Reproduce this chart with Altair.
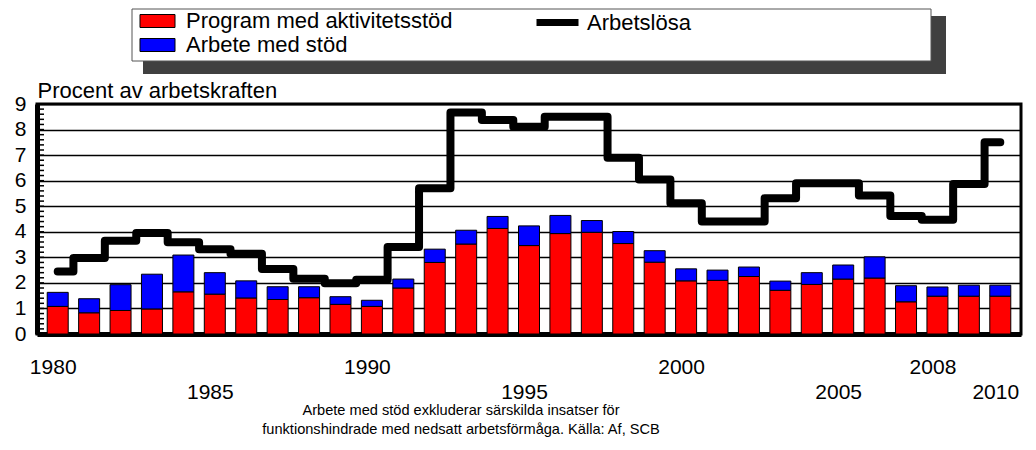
import altair as alt
import pandas as pd

# ---------------- data ----------------
years = list(range(1980, 2011))
program = [1.08, 0.83, 0.92, 0.98, 1.65, 1.56, 1.41, 1.35, 1.42, 1.16,
           1.08, 1.80, 2.80, 3.52, 4.13, 3.46, 3.93, 3.98, 3.54, 2.81,
           2.08, 2.10, 2.25, 1.71, 1.94, 2.15, 2.19, 1.26, 1.48, 1.48, 1.48]
arbete = [0.55, 0.55, 1.01, 1.36, 1.44, 0.84, 0.67, 0.50, 0.43, 0.30,
          0.24, 0.35, 0.52, 0.54, 0.47, 0.77, 0.71, 0.46, 0.47, 0.45,
          0.47, 0.40, 0.37, 0.36, 0.46, 0.55, 0.83, 0.63, 0.36, 0.43, 0.43]
arbetslosa = [2.45, 2.97, 3.65, 3.95, 3.59, 3.32, 3.14, 2.54, 2.16, 1.99,
              2.12, 3.40, 5.70, 8.67, 8.37, 8.11, 8.50, 8.50, 6.90, 6.05,
              5.12, 4.40, 4.40, 5.31, 5.90, 5.90, 5.42, 4.62, 4.47, 5.87, 7.50]

bar_series = ["Program med aktivitetsstöd", "Arbete med stöd"]
bar_colors = ["#ff0000", "#0000ff"]
line_series = "Arbetslösa"

y_ticks = [0, 1, 2, 3, 4, 5, 6, 7, 8, 9]
minor_ticks = [round(i * 0.2, 1) for i in range(0, 46)]
x_label_years = [1980, 1985, 1990, 1995, 2000, 2005, 2008, 2010]
x_second_row = [1985, 1995, 2005, 2010]

y_title = "Procent av arbetskraften"
footnote = ["Arbete med stöd exkluderar särskilda insatser för",
            "funktionshindrade med nedsatt arbetsförmåga. Källa: Af, SCB"]

FONT = "Liberation Sans"

# ---------------- tables ----------------
bars_df = pd.DataFrame(
    [{"year": y, "serie": bar_series[0], "value": p, "ord": 0} for y, p in zip(years, program)]
    + [{"year": y, "serie": bar_series[1], "value": a, "ord": 1} for y, a in zip(years, arbete)]
)
line_df = pd.DataFrame({"year": years, "value": arbetslosa, "serie": line_series})
minor_df = pd.DataFrame({"v": minor_ticks})

x_scale = alt.Scale(domain=[1979.5, 2010.5], nice=False, zero=False)
y_scale = alt.Scale(domain=[0, 9], nice=False)

second_row_expr = "indexof([" + ",".join(str(v) for v in x_second_row) + "], datum.value) >= 0 ? [' ', datum.label] : datum.label"

x_axis = alt.Axis(
    values=x_label_years, format="d", labelExpr=second_row_expr,
    ticks=False, tickSize=0, domain=True, domainWidth=5, domainColor="black",
    grid=False, labelFontSize=21, labelFont=FONT, labelColor="black",
    labelPadding=22, labelLineHeight=25, labelOffset=-5,
    labelOverlap=False, labelFlush=False, labelBound=False, title=None,
)
y_axis = alt.Axis(
    values=y_ticks, tickCount=10, ticks=False, tickSize=0, domain=True, domainWidth=5,
    domainColor="black", grid=True, gridColor="black", gridWidth=1.5,
    gridOpacity=1, labelFontSize=21, labelFont=FONT, labelColor="black",
    labelPadding=11, labelOverlap=False, labelBound=False,
    title=y_title, titleAngle=0, titleAlign="left",
    titleBaseline="alphabetic", titleX=0, titleY=-7, titleFontSize=22,
    titleFont=FONT, titleFontWeight="normal", titleColor="black",
)

# legend decoration: shadow and white box
deco = alt.Data(values=[{"k": 1}])
shadow = alt.Chart(deco).mark_rect(fill="#404040").encode(
    x=alt.value(106), x2=alt.value(909), y=alt.value(-88), y2=alt.value(-30)
)
box = alt.Chart(deco).mark_rect(fill="white", stroke="#555555", strokeWidth=1).encode(
    x=alt.value(95), x2=alt.value(894), y=alt.value(-95), y2=alt.value(-43)
)

bars = alt.Chart(bars_df).mark_bar(size=21, stroke="black", strokeWidth=1).encode(
    x=alt.X("year:Q", scale=x_scale, axis=x_axis),
    y=alt.Y("value:Q", stack="zero", scale=y_scale, axis=y_axis),
    color=alt.Color(
        "serie:N",
        scale=alt.Scale(domain=bar_series, range=bar_colors),
        legend=alt.Legend(
            title=None, orient="none", legendX=109.5, legendY=-94,
            direction="vertical", symbolType="M-1.75,-0.65H1.75V0.65H-1.75Z",
            symbolSize=400, symbolStrokeColor="black", symbolStrokeWidth=1,
            labelFontSize=22, labelFont=FONT, labelColor="black",
            labelOffset=17.5, rowPadding=2, padding=0, labelLimit=400,
        ),
    ),
    order=alt.Order("ord:Q", sort="ascending"),
)

line = alt.Chart(line_df).mark_line(
    interpolate="step", strokeWidth=8, strokeCap="round", strokeJoin="round"
).encode(
    x=alt.X("year:Q", scale=x_scale, axis=x_axis),
    y=alt.Y("value:Q", scale=y_scale, axis=y_axis),
    stroke=alt.Stroke(
        "serie:N",
        scale=alt.Scale(domain=[line_series], range=["black"]),
        legend=alt.Legend(
            title=None, orient="none", legendX=507, legendY=-95,
            symbolType="M-2.1,0H2.1", symbolSize=400, symbolStrokeWidth=7,
            labelFontSize=22, labelFont=FONT, labelColor="black",
            labelOffset=16, padding=0, labelLimit=400,
        ),
    ),
)

minor = alt.Chart(minor_df).mark_rule(color="black", strokeWidth=1.5).encode(
    y=alt.Y("v:Q", scale=y_scale, axis=y_axis),
    x=alt.value(0), x2=alt.value(7),
)

chart = alt.layer(shadow, box, bars, line, minor).properties(
    width=984, height=230,
    padding={"left": 29, "top": 96, "right": 7, "bottom": 108},
    autosize=alt.AutoSizeParams(type="none"),
    title=alt.TitleParams(
        text=footnote, orient="bottom", anchor="middle", fontSize=14.6,
        font=FONT, fontWeight="normal", color="black", lineHeight=19,
        dx=-68, offset=1,
    ),
).configure_view(stroke="black", strokeWidth=3)

chart.save("out.html", embed_options={"renderer": "svg", "actions": False})
